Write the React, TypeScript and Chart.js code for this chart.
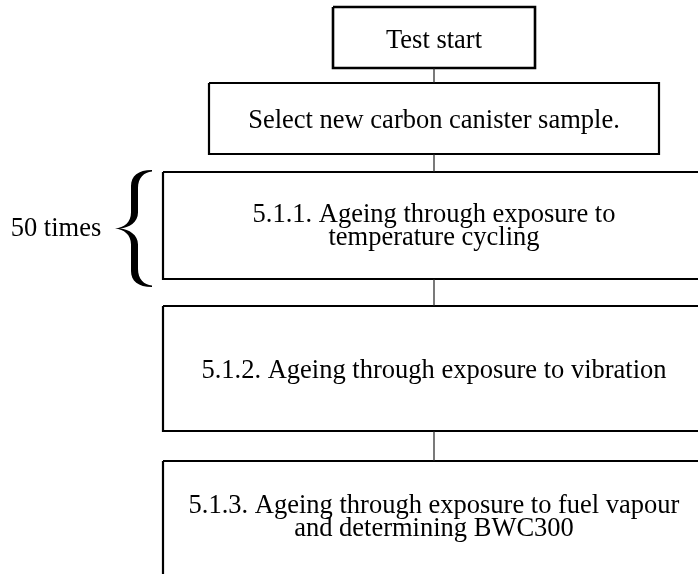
import React, { useEffect, useRef } from "react";
import { Chart, registerables } from "chart.js";

Chart.register(...registerables);

// ---- content ----
const stepLabels: string[][] = [
  ["Test start"],
  ["Select new carbon canister sample."],
  ["5.1.1. Ageing through exposure to", "temperature cycling"],
  ["5.1.2. Ageing through exposure to vibration"],
  ["5.1.3. Ageing through exposure to fuel vapour", "and determining BWC300"],
];
const loopLabel = "50 times";
const loopStepIndex = 2;

// ---- layout grid (data units on the 698 x 574 plane) ----
const boxLeft = [333, 209, 163, 163, 163];
const boxRight = [535, 659, 705, 705, 705];
const boxTop = [7, 83, 172, 306, 461];
const boxBottom = [68, 154, 279, 431, 600];
const firstBaseline = [48, 128, 222, 378, 513];
const lineGap = 22.5;
const flowX = 434;
const loopTextX = 56;
const loopTextBaseline = 236;
const braceLeft = 115;
const braceRight = 152;

const FONT = "26.5px 'Liberation Serif', 'Times New Roman', serif";

export default function App() {
  const ref = useRef<HTMLCanvasElement | null>(null);

  useEffect(() => {
    document.body.style.margin = "0";
    const canvas = ref.current;
    if (!canvas) return;

    const boxSets = stepLabels.map((_, i) => ({
      type: "line" as const,
      label: "box" + i,
      data: [
        { x: boxLeft[i], y: boxTop[i] },
        { x: boxRight[i], y: boxTop[i] },
        { x: boxRight[i], y: boxBottom[i] },
        { x: boxLeft[i], y: boxBottom[i] },
        { x: boxLeft[i], y: boxTop[i] },
      ],
      showLine: true,
      borderColor: "#000000",
      borderWidth: i === 0 ? 2.6 : 2.2,
      pointRadius: 0,
      fill: false,
      tension: 0,
      borderJoinStyle: "miter" as const,
    }));

    const linkSets = stepLabels.slice(1).map((_, i) => ({
      type: "line" as const,
      label: "link" + i,
      data: [
        { x: flowX, y: boxBottom[i] },
        { x: flowX, y: boxTop[i + 1] },
      ],
      showLine: true,
      borderColor: "#222222",
      borderWidth: 1.2,
      pointRadius: 0,
      fill: false,
      tension: 0,
    }));

    const textPlugin = {
      id: "flowText",
      afterDatasetsDraw(chart: any) {
        const ctx = chart.ctx as CanvasRenderingContext2D;
        const xs = chart.scales.x;
        const ys = chart.scales.y;
        const px = (v: number) => xs.getPixelForValue(v);
        const py = (v: number) => ys.getPixelForValue(v);
        ctx.save();
        ctx.fillStyle = "#000";
        ctx.font = FONT;
        ctx.textAlign = "center";
        ctx.textBaseline = "alphabetic";
        stepLabels.forEach((lines, i) => {
          lines.forEach((line, k) => {
            ctx.fillText(line, px(flowX), py(firstBaseline[i] + k * lineGap));
          });
        });
        // loop label
        ctx.fillText(loopLabel, px(loopTextX), py(loopTextBaseline));

        // curly brace spanning the looped step
        const top = boxTop[loopStepIndex] - 2;
        const bot = boxBottom[loopStepIndex] + 8;
        const mid = (top + bot) / 2;
        const L = braceLeft;
        const R = braceRight;
        const armO = L + 16;
        const armI = L + 23;
        ctx.beginPath();
        ctx.moveTo(px(R), py(top));
        ctx.bezierCurveTo(px(L + 23), py(top), px(armO), py(top + 6), px(armO), py(top + 16));
        ctx.lineTo(px(armO), py(mid - 16));
        ctx.bezierCurveTo(px(armO), py(mid - 6), px(L + 9), py(mid - 1), px(L), py(mid));
        ctx.bezierCurveTo(px(L + 9), py(mid + 1), px(armO), py(mid + 6), px(armO), py(mid + 16));
        ctx.lineTo(px(armO), py(bot - 16));
        ctx.bezierCurveTo(px(armO), py(bot - 6), px(L + 23), py(bot), px(R), py(bot));
        ctx.lineTo(px(R), py(bot - 1.5));
        ctx.bezierCurveTo(px(L + 29), py(bot - 2), px(armI), py(bot - 8), px(armI), py(bot - 18));
        ctx.lineTo(px(armI), py(mid + 16));
        ctx.bezierCurveTo(px(armI), py(mid + 6), px(L + 14), py(mid + 1), px(L + 5), py(mid));
        ctx.bezierCurveTo(px(L + 14), py(mid - 1), px(armI), py(mid - 6), px(armI), py(mid - 16));
        ctx.lineTo(px(armI), py(top + 18));
        ctx.bezierCurveTo(px(armI), py(top + 8), px(L + 29), py(top + 2), px(R), py(top + 1.5));
        ctx.closePath();
        ctx.fill();
        ctx.restore();
      },
    };

    const chart = new Chart(canvas, {
      type: "scatter",
      data: { datasets: [...linkSets, ...boxSets] as any },
      options: {
        animation: false,
        responsive: false,
        devicePixelRatio: 1,
        layout: { padding: 0 },
        plugins: { legend: { display: false }, tooltip: { enabled: false } },
        scales: {
          x: { type: "linear", min: 0, max: 698, display: false },
          y: { type: "linear", min: 0, max: 574, reverse: true, display: false },
        },
      },
      plugins: [textPlugin],
    });
    return () => chart.destroy();
  }, []);

  return (
    <div style={{ width: 698, height: 574, background: "#fff" }}>
      <canvas ref={ref} width={698} height={574} style={{ display: "block" }} />
    </div>
  );
}
